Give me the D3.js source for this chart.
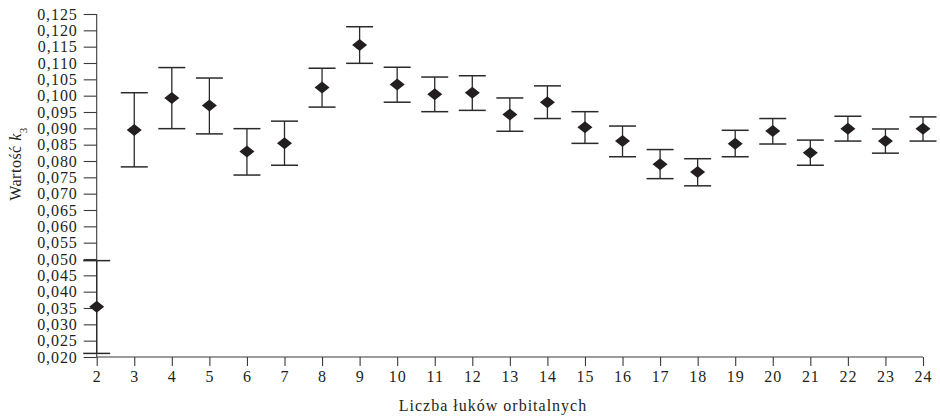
<!DOCTYPE html>
<html>
<head>
<meta charset="utf-8">
<script src="https://cdn.jsdelivr.net/npm/d3@7"></script>
<style>
  body { margin: 0; background: #fff; }
  text { font-family: "Liberation Serif", serif; fill: #231f20; }
</style>
</head>
<body>
<script>
// liczba łuków orbitalnych
const arcs = [2, 3, 4, 5, 6, 7, 8, 9, 10, 11, 12, 13, 14, 15, 16, 17, 18, 19, 20, 21, 22, 23, 24];
// wartość k3 (średnia) oraz granice przedziału
const means = [0.0354, 0.0895, 0.0993, 0.0970, 0.0829, 0.0854, 0.1025, 0.1155, 0.1034, 0.1004, 0.1009, 0.0942,
               0.0980, 0.0903, 0.0861, 0.0790, 0.0766, 0.0853, 0.0892, 0.0825, 0.0899, 0.0861, 0.0899];
const upper = [0.0495, 0.1009, 0.1086, 0.1054, 0.0899, 0.0922, 0.1084, 0.1211, 0.1087, 0.1057, 0.1061, 0.0993,
               0.1030, 0.0951, 0.0907, 0.0835, 0.0807, 0.0894, 0.0930, 0.0864, 0.0937, 0.0898, 0.0935];
const lower = [0.0211, 0.0782, 0.0899, 0.0883, 0.0757, 0.0787, 0.0965, 0.1099, 0.0980, 0.0951, 0.0955, 0.0891,
               0.0930, 0.0854, 0.0813, 0.0746, 0.0724, 0.0813, 0.0852, 0.0787, 0.0861, 0.0824, 0.0861];
const yTicks = d3.range(0.020, 0.1251, 0.005);

const w = 940;
const h = 417;
const m = { top: 14, right: 17, bottom: 60, left: 96.7 };

const data = arcs.map((a, i) => ({ a: a, mean: means[i], hi: upper[i], lo: lower[i] }));

const svg = d3.select('body')
              .append('svg')
              .attr('width', w)
              .attr('height', h)

const x = d3.scaleLinear()
            .domain([2, 24])
            .range([m.left, w - m.right])
const y = d3.scaleLinear()
            .domain([0.020, 0.125])
            .range([h - m.bottom, m.top])

const fmt = d => d3.format('.3f')(d).replace('.', ',');

const yAxis = d3.axisLeft(y)
                .tickValues(yTicks)
                .tickFormat(fmt)
                .tickSize(13)
                .tickPadding(6)
const xAxis = d3.axisBottom(x)
                .tickValues(arcs)
                .tickFormat(d3.format('d'))
                .tickSize(9)
                .tickPadding(5)

const gy = svg.append('g')
              .attr('transform', `translate(${m.left},0)`)
              .call(yAxis)
const gx = svg.append('g')
              .attr('transform', `translate(0,${h - m.bottom})`)
              .call(xAxis)

svg.selectAll('.domain')
   .attr('stroke', '#3a3a3a')
   .attr('stroke-width', 1.1)
svg.selectAll('.tick line')
   .attr('stroke', '#3a3a3a')
   .attr('stroke-width', 1.1)
svg.selectAll('.tick text')
   .style('font-size', '16px')
   .style('letter-spacing', '0.9px')
   .attr('fill', '#231f20')
gy.select('.domain').attr('d', `M0,${y(0.125)}V${y(0.020)}`)
gx.select('.domain').attr('d', `M${x(2)},0H${x(24)}`)

// słupki błędów
const bars = svg.append('g')
                .selectAll('g')
                .data(data)
                .enter()
                .append('g')
bars.append('line')
    .attr('x1', d => x(d.a))
    .attr('x2', d => x(d.a))
    .attr('y1', d => y(d.hi))
    .attr('y2', d => y(d.lo))
    .attr('stroke', '#2a2a2a')
    .attr('stroke-width', 1.3)
bars.selectAll('.cap')
    .data(d => [{ a: d.a, v: d.hi }, { a: d.a, v: d.lo }])
    .enter()
    .append('line')
    .attr('class', 'cap')
    .attr('x1', d => x(d.a) - 13.5)
    .attr('x2', d => x(d.a) + 13.5)
    .attr('y1', d => y(d.v))
    .attr('y2', d => y(d.v))
    .attr('stroke', '#2a2a2a')
    .attr('stroke-width', 1.5)
bars.append('path')
    .attr('d', d => {
      const cx = x(d.a), cy = y(d.mean);
      return `M${cx - 7.5},${cy}L${cx},${cy - 6}L${cx + 7.5},${cy}L${cx},${cy + 6}Z`;
    })
    .attr('fill', '#231f20')

svg.append('text')
   .attr('x', 493)
   .attr('y', 411)
   .attr('text-anchor', 'middle')
   .style('font-size', '16px')
   .style('letter-spacing', '1px')
   .text('Liczba łuków orbitalnych')

const ylab = svg.append('text')
                .attr('transform', 'translate(21,164) rotate(-90)')
                .attr('text-anchor', 'middle')
                .style('font-size', '16px')
                .style('letter-spacing', '0.5px')
ylab.append('tspan').text('Wartość ')
ylab.append('tspan').style('font-style', 'italic').text('k')
ylab.append('tspan').attr('baseline-shift', 'sub').style('font-size', '11px').text('3')
</script>
</body>
</html>
